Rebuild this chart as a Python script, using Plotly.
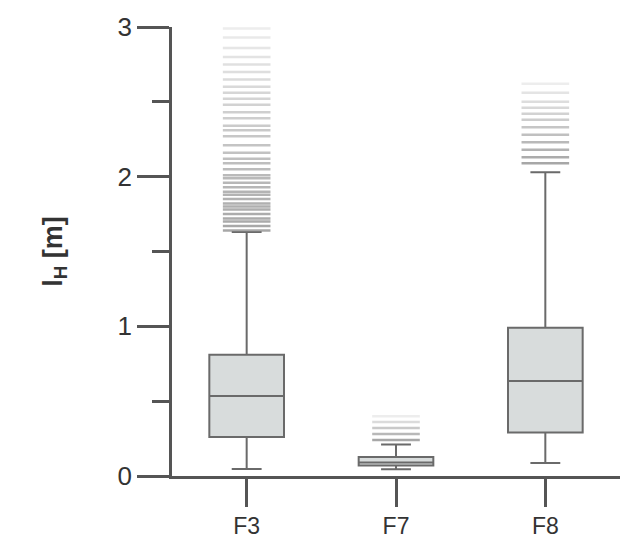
import plotly.graph_objects as go

categories = ["F3", "F7", "F8"]
q1 = [0.26, 0.07, 0.29]
median = [0.535, 0.09, 0.635]
q3 = [0.81, 0.127, 0.99]
lower_whisker = [0.047, 0.045, 0.087]
upper_whisker = [1.63, 0.21, 2.03]

outliers_F3 = [1.64, 1.67, 1.70, 1.72, 1.75, 1.78, 1.80, 1.82, 1.85, 1.88, 1.90, 1.93,
               1.96, 1.99, 2.01, 2.05, 2.09, 2.12, 2.16, 2.21, 2.27, 2.31, 2.34, 2.39,
               2.43, 2.48, 2.52, 2.56, 2.60, 2.65, 2.70, 2.75, 2.80, 2.86, 2.93, 2.99]
outliers_F7 = [0.24, 0.28, 0.32, 0.36, 0.40]
outliers_F8 = [2.09, 2.13, 2.18, 2.23, 2.28, 2.33, 2.38, 2.42, 2.46, 2.50, 2.56, 2.62]

yticks = [0, 1, 2, 3]

LINE = "#6a6a6a"
AXIS = "#555555"
TEXT = "#333333"

fig = go.Figure()

# outliers first (behind boxes)
for cat, vals in zip(categories, [outliers_F3, outliers_F7, outliers_F8]):
    vmin, vmax = min(vals), max(vals)
    ops = []
    for v in vals:
        f = (v - vmin) / (vmax - vmin) if vmax > vmin else 0
        ops.append(0.75 - 0.6 * f)
    fig.add_trace(go.Scatter(
        x=[cat] * len(vals), y=vals, mode="markers",
        marker=dict(symbol="line-ew", size=34, opacity=ops,
                    line=dict(color="#8a8a8a", width=2.5)),
        showlegend=False, hoverinfo="y", cliponaxis=False,
    ))

fig.add_trace(go.Box(
    x=categories, q1=q1, median=median, q3=q3,
    lowerfence=lower_whisker, upperfence=upper_whisker,
    boxpoints=False, width=0.5, whiskerwidth=0.4,
    fillcolor="#d8dcdc", line=dict(color=LINE, width=2),
    showlegend=False,
))

fig.update_layout(
    width=629, height=549,
    margin=dict(l=172, r=9, t=27, b=73),
    paper_bgcolor="white", plot_bgcolor="white",
    font=dict(family="Liberation Sans, Arial, sans-serif", color=TEXT),
    xaxis=dict(
        type="category", categoryorder="array", categoryarray=categories,
        range=[-0.5, 2.5], showline=True, linecolor=AXIS, linewidth=2.5,
        ticks="outside", ticklen=28, tickwidth=2.5, tickcolor=AXIS,
        tickfont=dict(size=23, color=TEXT), showgrid=False, zeroline=False,
    ),
    yaxis=dict(
        range=[0, 3], tickvals=yticks, ticktext=[str(t) for t in yticks],
        showline=True, linecolor=AXIS, linewidth=2.5,
        ticks="outside", ticklen=32, tickwidth=2.5, tickcolor=AXIS,
        minor=dict(tickvals=[0.5, 1.5, 2.5], ticks="outside", ticklen=17,
                   tickwidth=2.5, tickcolor=AXIS),
        tickfont=dict(size=26, color=TEXT), showgrid=False, zeroline=False,
        title=dict(text="<b>l<sub>H</sub> [m]</b>", font=dict(size=27, color=TEXT), standoff=48),
    ),
)

fig.write_html("out.html")
